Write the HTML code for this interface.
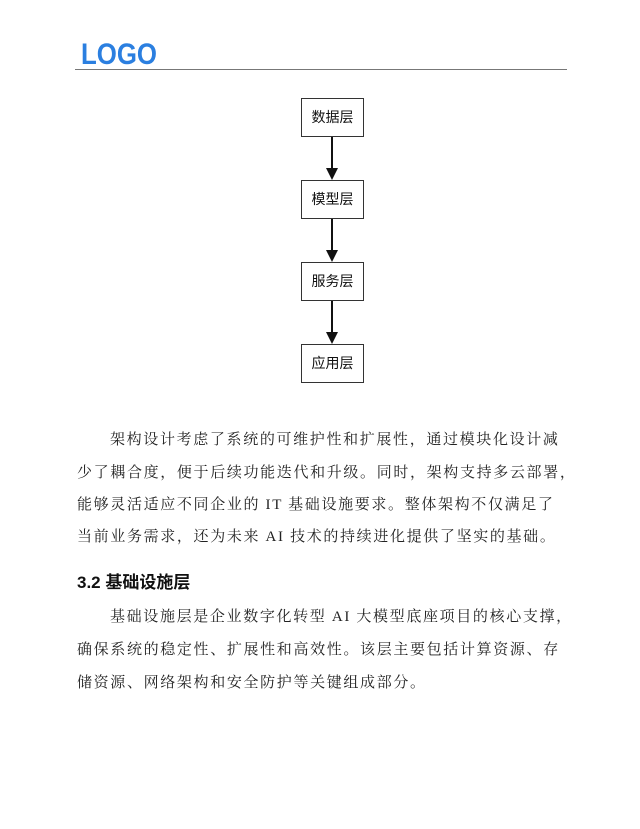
<!DOCTYPE html>
<html><head><meta charset="utf-8"><style>
body{margin:0;width:640px;height:829px;background:#fff;position:relative;overflow:hidden}
.logo{position:absolute;left:81px;top:37px;font:900 30px "Liberation Sans",sans-serif;color:#2b7fe0;letter-spacing:0px;transform:scaleX(0.86);transform-origin:left;line-height:36px}
.hr{position:absolute;left:75px;top:69px;width:492px;height:1px;background:#777}
.box{position:absolute;left:301px;width:63px;height:39px;border:1px solid #333;box-sizing:border-box;font:14px "Liberation Sans","Noto Sans CJK SC",sans-serif;text-align:center;line-height:37px;color:#111}
.p{position:absolute;left:77px;font:15px "Liberation Serif","Noto Serif CJK SC",serif;letter-spacing:1.65px;color:#222;white-space:nowrap}
.h{position:absolute;left:77px;top:568px;font:bold 17px "Liberation Sans","Noto Sans CJK SC",sans-serif;color:#111}
</style></head><body>
<div class="logo">LOGO</div>
<div class="hr"></div>
<div class="box" style="top:98px">数据层</div>
<div class="box" style="top:180px">模型层</div>
<div class="box" style="top:262px">服务层</div>
<div class="box" style="top:344px">应用层</div>
<svg style="position:absolute;left:0;top:0" width="640" height="829">
<g stroke="#111" stroke-width="2" fill="#111">
<line x1="332" y1="137" x2="332" y2="170"/><polygon points="326,168 338,168 332,180" stroke="none"/>
<line x1="332" y1="219" x2="332" y2="252"/><polygon points="326,250 338,250 332,262" stroke="none"/>
<line x1="332" y1="301" x2="332" y2="334"/><polygon points="326,332 338,332 332,344" stroke="none"/>
</g></svg>
<div class="p" style="top:428px;left:110px">架构设计考虑了系统的可维护性和扩展性，通过模块化设计减</div>
<div class="p" style="top:461px">少了耦合度，便于后续功能迭代和升级。同时，架构支持多云部署，</div>
<div class="p" style="top:493px">能够灵活适应不同企业的 IT 基础设施要求。整体架构不仅满足了</div>
<div class="p" style="top:525px">当前业务需求，还为未来 AI 技术的持续进化提供了坚实的基础。</div>
<div class="h">3.2 基础设施层</div>
<div class="p" style="top:605px;left:110px">基础设施层是企业数字化转型 AI 大模型底座项目的核心支撑，</div>
<div class="p" style="top:638px">确保系统的稳定性、扩展性和高效性。该层主要包括计算资源、存</div>
<div class="p" style="top:671px">储资源、网络架构和安全防护等关键组成部分。</div>
</body></html>
